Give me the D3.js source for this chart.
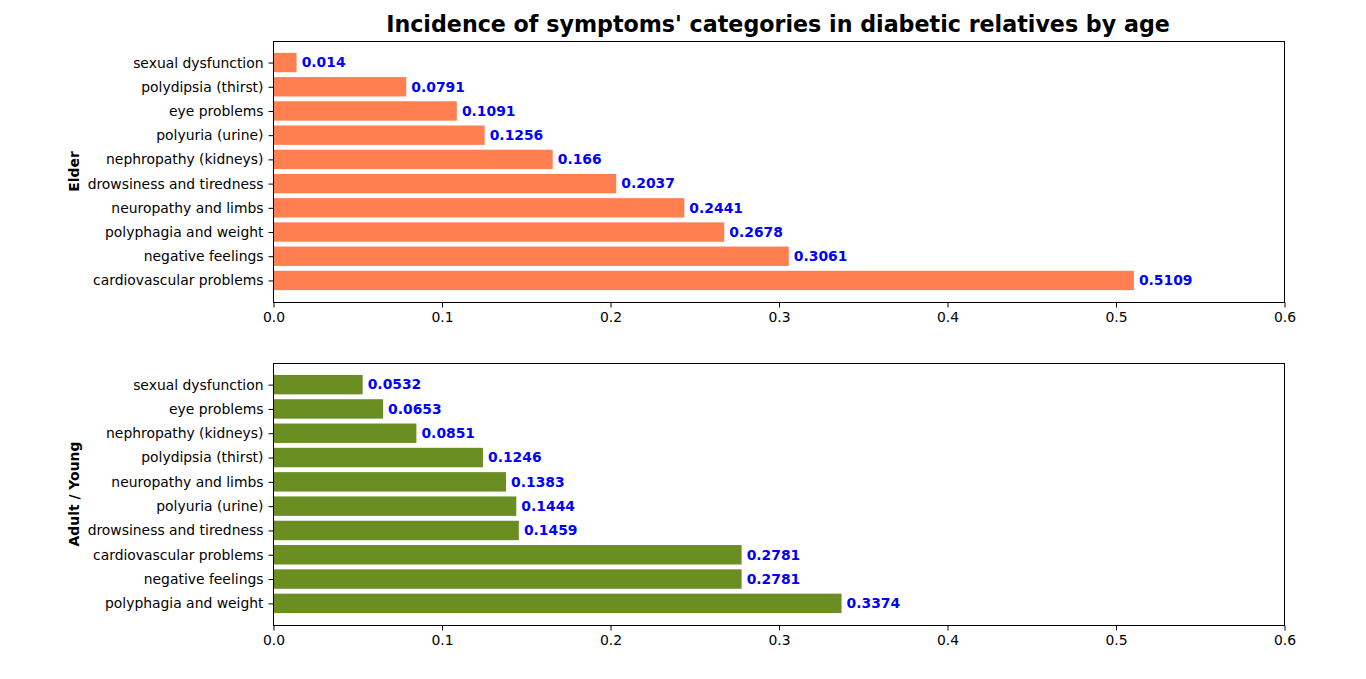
<!DOCTYPE html>
<html>
<head>
<meta charset="utf-8">
<script src="https://cdn.jsdelivr.net/npm/d3@7"></script>
<style>
  body { margin: 0; background: #fff; }
  text { font-family: "DejaVu Sans", sans-serif; }
</style>
</head>
<body>
<div id="chart"></div>
<script>
// data, listed bottom bar first
var elderCategories = [
  "cardiovascular problems",
  "negative feelings",
  "polyphagia and weight",
  "neuropathy and limbs",
  "drowsiness and tiredness",
  "nephropathy (kidneys)",
  "polyuria (urine)",
  "eye problems",
  "polydipsia (thirst)",
  "sexual dysfunction",
];
var elderValues = [0.5109, 0.3061, 0.2678, 0.2441, 0.2037, 0.166, 0.1256, 0.1091, 0.0791, 0.014];

var youngCategories = [
  "polyphagia and weight",
  "negative feelings",
  "cardiovascular problems",
  "drowsiness and tiredness",
  "polyuria (urine)",
  "neuropathy and limbs",
  "polydipsia (thirst)",
  "nephropathy (kidneys)",
  "eye problems",
  "sexual dysfunction",
];
var youngValues = [0.3374, 0.2781, 0.2781, 0.1459, 0.1444, 0.1383, 0.1246, 0.0851, 0.0653, 0.0532];

var xTicks = [0, 0.1, 0.2, 0.3, 0.4, 0.5, 0.6];
var titleText = "Incidence of symptoms' categories in diabetic relatives by age";

var width = 1366, height = 679;
var svg = d3.select("#chart").append("svg")
  .attr("width", width).attr("height", height);

svg.append("text")
  .attr("x", 778).attr("y", 31.5)
  .attr("text-anchor", "middle")
  .style("font-size", "22.2px").style("font-weight", "bold")
  .text(titleText);

function drawPanel(top, bottom, cats, vals, color, ylabel) {
  var left = 273, right = 1284;
  var g = svg.append("g");

  var xScale = d3.scaleLinear().domain([0, 0.6]).range([left, right]);
  // matplotlib barh default: bars of 0.8, 5% margins
  var yScale = d3.scaleLinear().domain([-0.89, cats.length - 1 + 0.89]).range([bottom, top]);
  var bh = yScale(0) - yScale(0.8);

  g.selectAll("rect.bar")
    .data(vals)
    .enter()
    .append("rect")
    .attr("class", "bar")
    .attr("fill", color)
    .attr("x", xScale(0))
    .attr("y", function (d, i) { return yScale(i + 0.4); })
    .attr("width", function (d) { return xScale(d) - xScale(0); })
    .attr("height", bh);

  g.selectAll("text.val")
    .data(vals)
    .enter()
    .append("text")
    .attr("class", "val")
    .attr("x", function (d) { return xScale(d + 0.003); })
    .attr("y", function (d, i) { return yScale(i); })
    .attr("dy", "0.35em")
    .style("font-size", "13.9px").style("font-weight", "bold")
    .attr("fill", "#0000ff")
    .text(function (d) { return d; });

  // frame
  g.append("rect")
    .attr("x", left + 0.5).attr("y", top + 0.5)
    .attr("width", right - left).attr("height", bottom - top)
    .attr("fill", "none").attr("stroke", "#000").attr("stroke-width", 1);

  // x axis
  var xAxis = g.append("g")
    .attr("transform", "translate(0.5," + (bottom + 0.5) + ")")
    .call(d3.axisBottom(xScale).tickValues(xTicks).tickFormat(d3.format(".1f")).tickSize(5).tickPadding(5));
  xAxis.select(".domain").remove();
  xAxis.selectAll("text").style("font-size", "13.9px").attr("fill", "#000").style("font-family", "DejaVu Sans");

  // y axis
  var yAxis = g.append("g")
    .attr("transform", "translate(" + (left + 0.5) + ",0)")
    .call(d3.axisLeft(yScale).tickValues(d3.range(cats.length))
      .tickFormat(function (i) { return cats[i]; }).tickSize(5).tickPadding(5));
  yAxis.select(".domain").remove();
  yAxis.selectAll("text").style("font-size", "13.9px").attr("fill", "#000").style("font-family", "DejaVu Sans");

  g.append("text")
    .attr("transform", "translate(79," + (top + bottom) / 2 + ") rotate(-90)")
    .attr("text-anchor", "middle")
    .style("font-size", "13.9px").style("font-weight", "bold")
    .text(ylabel);
}

drawPanel(41, 302, elderCategories, elderValues, "#ff7f50", "Elder");
drawPanel(363, 625, youngCategories, youngValues, "#6b8e23", "Adult / Young");
</script>
</body>
</html>
